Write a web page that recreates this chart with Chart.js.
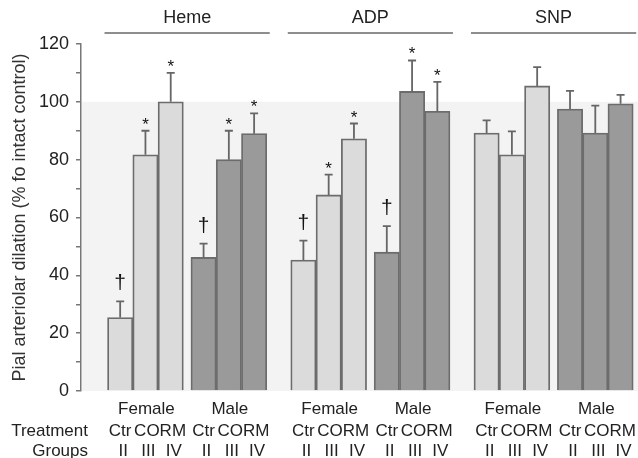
<!DOCTYPE html>
<html>
<head>
<meta charset="utf-8">
<script src="https://cdn.jsdelivr.net/npm/chart.js@4.4.0/dist/chart.umd.min.js"></script>
<style>
html, body { margin: 0; padding: 0; background: #fff; }
</style>
</head>
<body>
<canvas id="MyChart" width="638" height="458"></canvas>
<script>
// values (mean and SEM, % of intact control)
var treatments = ['Heme', 'ADP', 'SNP'];
var sexes = ['Female', 'Male'];
var treatLabels = ['Ctr', 'CORM'];
var groupLabels = ['II', 'III', 'IV'];

var hemeMean = [25.4, 81.7, 100, 46.2, 80, 89];
var hemeSem = [5.6, 8.3, 10, 4.8, 10, 7];
var adpMean = [45.3, 67.8, 87.2, 48, 103.6, 96.7];
var adpSem = [6.7, 7, 5.3, 9, 10.7, 10.2];
var snpMean = [89.2, 81.7, 105.5, 97.5, 89.2, 99.3];
var snpSem = [4.4, 8.1, 6.5, 6.3, 9.5, 3.1];

var hemeMarks = ['†', '*', '*', '†', '*', '*'];
var adpMarks = ['†', '*', '*', '†', '*', '*'];
var snpMarks = ['', '', '', '', '', ''];

var yTicks = [0, 20, 40, 60, 80, 100, 120];

var allMean = [hemeMean, adpMean, snpMean];
var allSem = [hemeSem, adpSem, snpSem];
var allMarks = [hemeMarks, adpMarks, snpMarks];

var femaleFill = '#dbdbdb';
var maleFill = '#9a9a9a';
var edge = '#6c6c6c';

function barX(g, s, b) {
    return 1.55 + g * 7.25 + s * 3.3 + b;
}

var points = [], fills = [], sems = [], marks = [];
for (var g = 0; g < treatments.length; g++) {
    for (var s = 0; s < sexes.length; s++) {
        for (var b = 0; b < 3; b++) {
            var k = s * 3 + b;
            points.push({ x: barX(g, s, b), y: allMean[g][k] });
            fills.push(s === 0 ? femaleFill : maleFill);
            sems.push(allSem[g][k]);
            marks.push(allMarks[g][k]);
        }
    }
}

var decor = {
    id: 'decor',
    beforeDraw: function (chart) {
        var ctx = chart.ctx, y = chart.scales.y, a = chart.chartArea;
        ctx.save();
        ctx.fillStyle = '#f3f3f3';
        var top = y.getPixelForValue(100), bot = y.getPixelForValue(0);
        ctx.fillRect(a.left + 1, top, chart.width - a.left - 1, bot - top);
        ctx.restore();
    },
    afterDatasetsDraw: function (chart) {
        var ctx = chart.ctx, x = chart.scales.x, y = chart.scales.y;
        var els = chart.getDatasetMeta(0).data;
        ctx.save();
        // error bars
        ctx.strokeStyle = '#666';
        ctx.lineWidth = 1.8;
        els.forEach(function (el, i) {
            var top = y.getPixelForValue(points[i].y + sems[i]);
            ctx.beginPath();
            ctx.moveTo(el.x, el.y);
            ctx.lineTo(el.x, top);
            ctx.moveTo(el.x - 4, top);
            ctx.lineTo(el.x + 4, top);
            ctx.stroke();
            if (marks[i]) {
                ctx.fillStyle = '#111';
                ctx.textAlign = 'center';
                ctx.textBaseline = 'alphabetic';
                if (marks[i] === '*') {
                    ctx.font = '17px "Liberation Sans", Arial, sans-serif';
                    ctx.fillText('*', el.x, top - 1);
                } else {
                    ctx.font = '21px "Liberation Sans", Arial, sans-serif';
                    ctx.fillText('†', el.x, top - 12);
                }
            }
        });
        // headers
        var bw = x.getPixelForValue(1) - x.getPixelForValue(0);
        ctx.fillStyle = '#222';
        ctx.textAlign = 'center';
        ctx.textBaseline = 'middle';
        ctx.strokeStyle = '#8e8e8e';
        ctx.lineWidth = 2.2;
        for (var g = 0; g < treatments.length; g++) {
            var l = x.getPixelForValue(barX(g, 0, 0)) - bw / 2 - 3;
            var r = x.getPixelForValue(barX(g, 1, 2)) + bw / 2 + 3;
            ctx.beginPath();
            ctx.moveTo(l, 33);
            ctx.lineTo(r, 33);
            ctx.stroke();
            ctx.font = '18px "Liberation Sans", Arial, sans-serif';
            ctx.fillText(treatments[g], (l + r) / 2, 18);
        }
        // bottom labels
        var base = y.getPixelForValue(0);
        ctx.font = '17px "Liberation Sans", Arial, sans-serif';
        for (g = 0; g < treatments.length; g++) {
            for (var s = 0; s < sexes.length; s++) {
                var c = x.getPixelForValue(barX(g, s, 1));
                ctx.fillText(sexes[s], c + 1, base + 18);
                ctx.fillText(treatLabels[0], x.getPixelForValue(barX(g, s, 0)), base + 40);
                ctx.fillText(treatLabels[1], x.getPixelForValue(barX(g, s, 1.5)) + 2, base + 40);
                for (var b = 0; b < 3; b++) {
                    ctx.fillText(groupLabels[b], x.getPixelForValue(barX(g, s, b)) + 3, base + 60);
                }
            }
        }
        ctx.textAlign = 'right';
        ctx.fillText('Treatment', 88, base + 40);
        ctx.fillText('Groups', 88, base + 60);
        ctx.restore();
    }
};

var ctx = document.getElementById('MyChart').getContext('2d');
var MyChart = new Chart(ctx, {
    type: 'bar',
    data: {
        datasets: [{
            data: points,
            backgroundColor: fills,
            borderColor: edge,
            borderWidth: 1.8,
            categoryPercentage: 1,
            barPercentage: 1
        }]
    },
    options: {
        responsive: false,
        animation: false,
        layout: { padding: { top: 44, bottom: 67, left: 0, right: 1 } },
        plugins: { legend: { display: false }, tooltip: { enabled: false } },
        scales: {
            x: {
                type: 'linear',
                min: 0,
                max: 22,
                offset: false,
                display: false,
                afterBuildTicks: function (scale) { scale.ticks = [{ value: 0 }]; }
            },
            y: {
                min: 0,
                max: 120,
                afterFit: function (scale) { scale.width = 81; },
                ticks: {
                    stepSize: 10,
                    padding: 7,
                    color: '#222',
                    font: { size: 18, family: '"Liberation Sans", Arial, sans-serif' },
                    callback: function (v) { return yTicks.indexOf(v) >= 0 ? v : ''; }
                },
                grid: { drawOnChartArea: false, tickLength: 5, color: '#777', lineWidth: 1.5 },
                border: { color: '#777', width: 1.5 },
                title: {
                    display: true,
                    text: 'Pial arteriolar dilation (% fo intact control)',
                    color: '#333',
                    font: { size: 18, family: '"Liberation Sans", Arial, sans-serif' },
                    padding: { top: 9, bottom: 0 }
                }
            }
        }
    },
    plugins: [decor]
});
</script>
</body>
</html>
